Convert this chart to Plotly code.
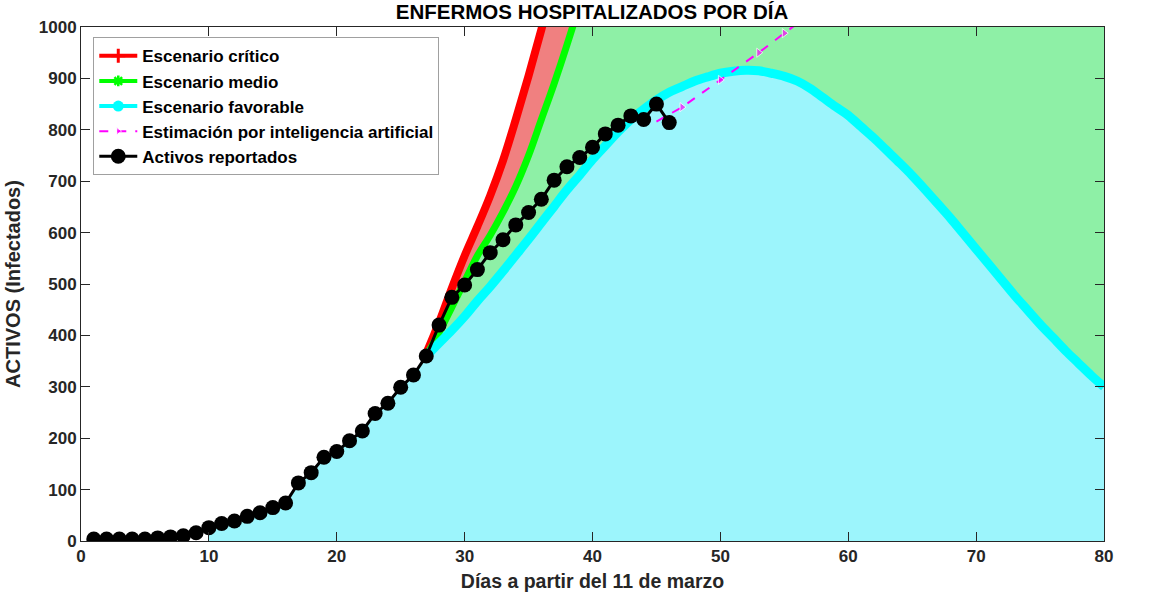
import plotly.graph_objects as go

# Datos reportados (día desde el 11 de marzo, activos)
dias_rep = list(range(1, 47))
activos_rep = [4, 4, 4, 4, 4, 6, 8, 10, 16, 26,
               34, 39, 48, 55, 65, 74, 113, 133, 163, 174,
               195, 214, 248, 268, 299, 323, 360, 420, 474, 498,
               528, 561, 586, 615, 639, 665, 702, 728, 746, 766,
               792, 809, 827, 820, 850, 814]

# Escenario crítico (lo que sale de 1000 queda fuera de la vista)
dias_crit = [27, 28, 29, 30, 31, 32, 33, 34, 35, 36, 37, 38, 40, 50, 80]
val_crit = [365, 425, 492, 555, 612, 672, 740, 820, 905, 995, 1090, 1190, 1400, 3000, 9000]

# Escenario medio
dias_medio = [27, 28, 29, 30, 31, 32, 33, 34, 35, 36, 37, 38, 39, 40, 50, 80]
val_medio = [360, 405, 455, 505, 555, 595, 640, 690, 750, 820, 890, 965, 1045, 1130, 2200, 5000]

# Escenario favorable
dias_fav = list(range(27, 81))
val_fav = [360, 385, 410, 437, 467, 495, 525, 556, 587, 619,
           651, 683, 712, 742, 769, 796, 820, 840, 858, 873,
           884, 895, 903, 910, 914, 916, 915, 910, 904, 895,
           881, 863, 845, 828, 806, 784, 760, 736, 711, 684,
           656, 628, 598, 568, 538, 508, 478, 450, 422, 396,
           370, 346, 322, 300]

# Estimación por inteligencia artificial
dias_ia = [45, 47, 50, 53, 55, 57]
val_ia = [816, 844, 897, 950, 988, 1025]

C_RED, C_GREEN, C_CYAN = "#FF0000", "#00FF00", "#00FFFF"
F_RED, F_GREEN, F_CYAN = "#F08080", "#8EF0A6", "#9CF5FC"
TXT = "#262626"
FONT = "Liberation Sans, Arial, sans-serif"

fig = go.Figure()

# áreas sombreadas (abajo de todo)
fig.add_trace(go.Scatter(x=dias_crit, y=val_crit, mode="none", fill="tozeroy",
                         line_shape="spline", fillcolor=F_RED,
                         showlegend=False, hoverinfo="skip"))
fig.add_trace(go.Scatter(x=dias_medio, y=val_medio, mode="none", fill="tozeroy",
                         line_shape="spline", fillcolor=F_GREEN,
                         showlegend=False, hoverinfo="skip"))
fav_fill_x = dias_rep[9:26] + dias_fav
fav_fill_y = activos_rep[9:26] + val_fav
fig.add_trace(go.Scatter(x=fav_fill_x, y=fav_fill_y, mode="none", fill="tozeroy",
                         fillcolor=F_CYAN, showlegend=False, hoverinfo="skip"))

# curvas de escenarios (líneas gruesas, la leyenda va aparte)
fig.add_trace(go.Scatter(x=dias_crit, y=val_crit, mode="lines", showlegend=False,
                         line=dict(color=C_RED, width=8, shape="spline")))
fig.add_trace(go.Scatter(x=dias_medio, y=val_medio, mode="lines", showlegend=False,
                         line=dict(color=C_GREEN, width=7, shape="spline")))
fig.add_trace(go.Scatter(x=dias_fav, y=val_fav, mode="lines", showlegend=False,
                         line=dict(color=C_CYAN, width=9, shape="spline")))

# entradas de leyenda
fig.add_trace(go.Scatter(
    x=[None], y=[None], name="Escenario crítico", mode="lines+markers",
    line=dict(color=C_RED, width=4),
    marker=dict(symbol="cross-thin", size=10, color=C_RED, line=dict(color=C_RED, width=3))))
fig.add_trace(go.Scatter(
    x=[None], y=[None], name="Escenario medio", mode="lines+markers",
    line=dict(color=C_GREEN, width=4),
    marker=dict(symbol="asterisk", size=9, color=C_GREEN, line=dict(color=C_GREEN, width=2.5))))
fig.add_trace(go.Scatter(
    x=[None], y=[None], name="Escenario favorable", mode="lines+markers",
    line=dict(color=C_CYAN, width=4),
    marker=dict(symbol="circle", size=11, color=C_CYAN)))

fig.add_trace(go.Scatter(
    x=dias_ia, y=val_ia, name="Estimación por inteligencia artificial", mode="lines+markers",
    line=dict(color="#FF00FF", width=2, dash="dash"),
    marker=dict(symbol="triangle-right", size=[0, 8, 8, 8, 8, 8], color="#FF00FF")))
fig.add_trace(go.Scatter(
    x=dias_rep, y=activos_rep, name="Activos reportados", mode="lines+markers",
    line=dict(color="black", width=3),
    marker=dict(symbol="circle", size=15, color="black")))

axis_common = dict(
    showgrid=False, zeroline=False, showline=True, linecolor=TXT, linewidth=1,
    mirror="ticks", ticks="inside", ticklen=9, tickcolor=TXT,
    tickfont=dict(family=FONT, size=17, color=TXT, weight="bold"),
)

fig.update_xaxes(range=[0, 80], dtick=10, **axis_common,
                 title=dict(text="Días a partir del 11 de marzo", standoff=8,
                            font=dict(family=FONT, size=19.5, color=TXT, weight="bold")))
fig.update_yaxes(range=[0, 1000], dtick=100, **axis_common,
                 title=dict(text="ACTIVOS (Infectados)", standoff=12,
                            font=dict(family=FONT, size=20, color=TXT, weight="bold")))

fig.update_layout(
    width=1153, height=600,
    margin=dict(l=81, r=49, t=27, b=59),
    plot_bgcolor="white", paper_bgcolor="white",
    title=dict(text="ENFERMOS HOSPITALIZADOS POR DÍA", x=0.5135, xanchor="center",
               y=0.993, yanchor="top",
               font=dict(family=FONT, size=20.5, color="black", weight="bold")),
    legend=dict(x=0.012, y=0.98, xanchor="left", yanchor="top",
                bgcolor="white", bordercolor="#A0A0A0", borderwidth=1,
                itemwidth=38, tracegroupgap=0,
                font=dict(family=FONT, size=17, color="black", weight="bold")),
    showlegend=True,
)

# sin margen del body para que la figura quede en la esquina de la ventana
fig.write_html("out.html", config={"displayModeBar": False},
               post_script="document.body.style.margin = '0';")
